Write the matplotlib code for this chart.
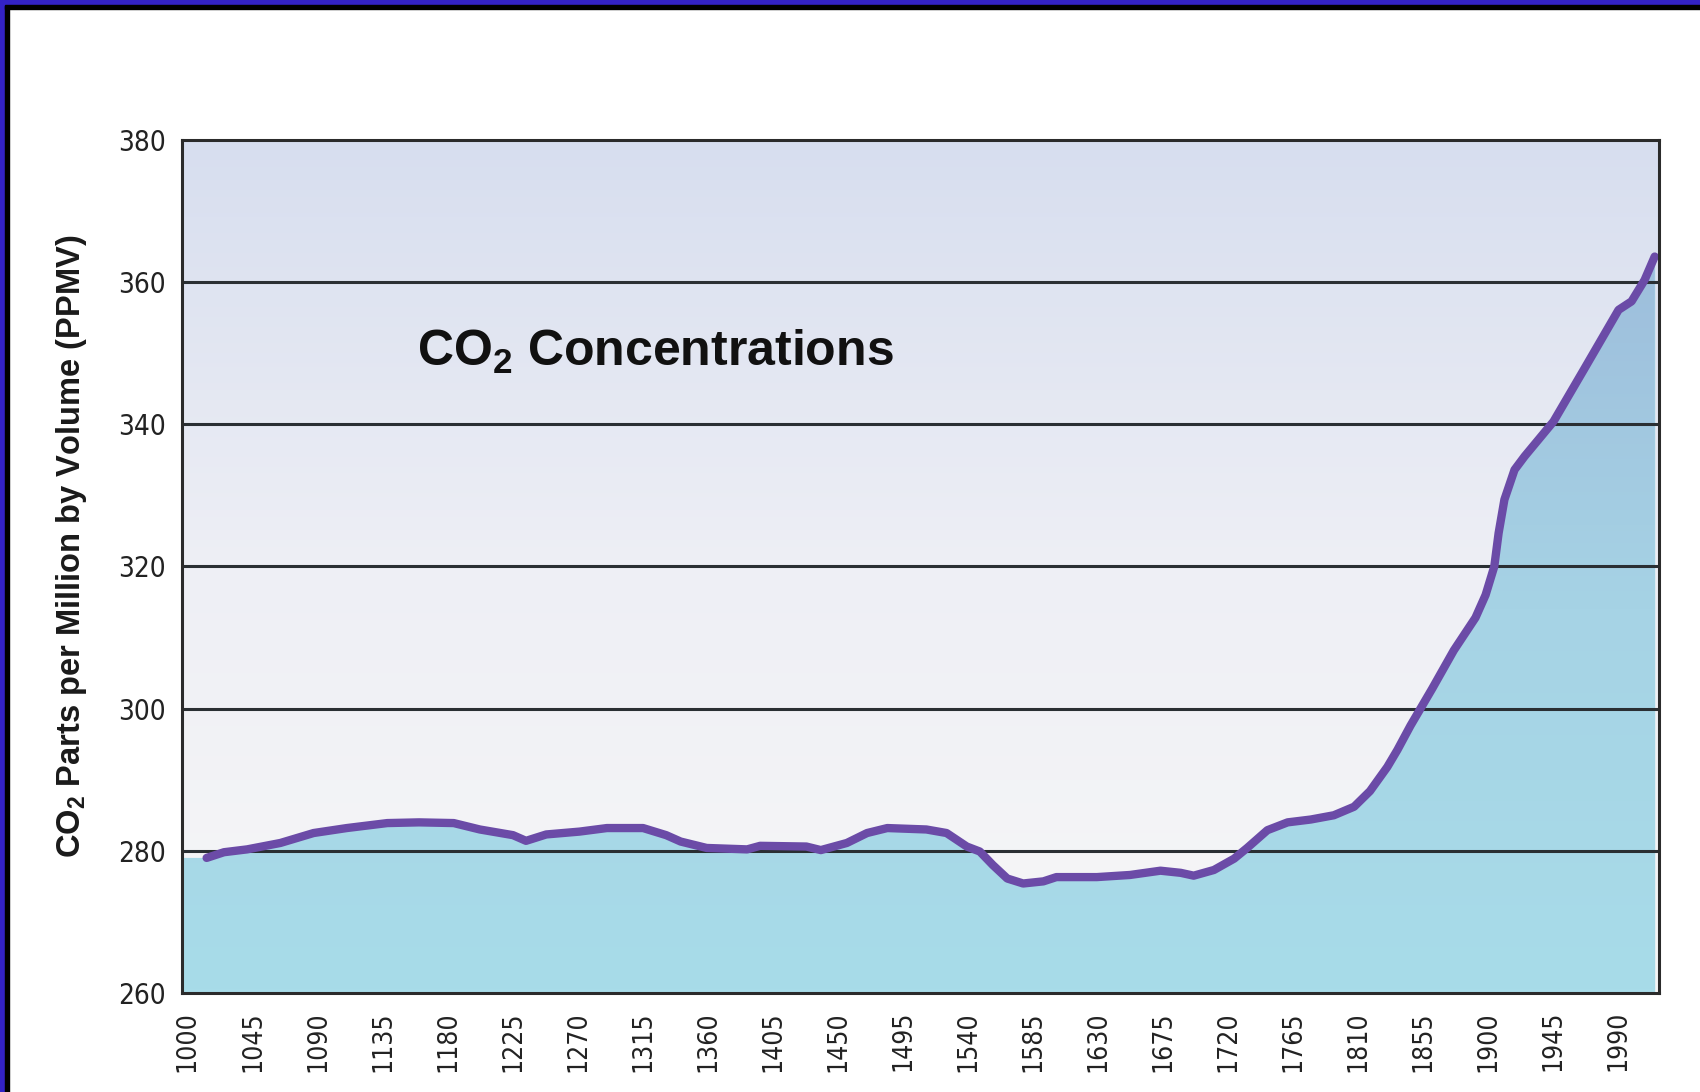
import numpy as np
import matplotlib.pyplot as plt
from matplotlib import font_manager
from matplotlib.patches import Rectangle
from matplotlib.colors import LinearSegmentedColormap

# ------------------------------------------------------------
# Data
# ------------------------------------------------------------
years = [1013, 1025, 1041, 1064, 1087, 1110, 1138, 1160, 1184, 1202,
         1225, 1234, 1248, 1271, 1290, 1315, 1331, 1341, 1359, 1387,
         1396, 1428, 1438, 1456, 1470, 1484, 1511, 1525, 1539, 1548,
         1557, 1567, 1578, 1592, 1601, 1629, 1652, 1673, 1687, 1696,
         1710, 1724, 1733, 1747, 1761, 1777, 1793, 1807, 1818, 1830,
         1837, 1846, 1861, 1876, 1891, 1898, 1904, 1907, 1911, 1918,
         1925, 1945, 1966, 1978, 1990, 1999, 2008, 2015]
ppmv = [279.0, 279.8, 280.2, 281.1, 282.5, 283.2, 283.9, 284.0, 283.9, 283.0,
        282.2, 281.4, 282.3, 282.7, 283.2, 283.2, 282.2, 281.3, 280.4, 280.2,
        280.7, 280.6, 280.1, 281.1, 282.5, 283.2, 283.0, 282.5, 280.6, 279.9,
        278.0, 276.1, 275.4, 275.7, 276.3, 276.3, 276.6, 277.2, 276.9, 276.5,
        277.3, 278.9, 280.4, 282.9, 284.0, 284.4, 285.0, 286.2, 288.4, 291.8,
        294.2, 297.6, 302.8, 308.2, 312.8, 316.0, 320.0, 324.7, 329.4, 333.6,
        335.5, 340.4, 347.7, 351.9, 356.1, 357.3, 360.3, 363.6]

x_ticks = list(range(1000, 2000, 45))
y_ticks = [260, 280, 300, 320, 340, 360, 380]

# pick a narrow font for the tick labels if one is installed
installed = {(f.name, f.stretch) for f in font_manager.fontManager.ttflist}
names = {n for n, _ in installed}
if "Liberation Sans Narrow" in names:
    xtick_kw = dict(family="Liberation Sans Narrow", fontsize=23)
    ytick_kw = dict(family="Liberation Sans Narrow", fontsize=23)
elif ("DejaVu Sans", "condensed") in installed or ("DejaVu Sans", 75) in installed:
    xtick_kw = dict(family="DejaVu Sans", fontstretch="condensed", fontsize=19)
    ytick_kw = dict(family="DejaVu Sans", fontstretch="condensed", fontsize=20)
else:
    xtick_kw = dict(family="Liberation Sans", fontsize=19.5)
    ytick_kw = dict(family="Liberation Sans", fontsize=20)

plt.rcParams["mathtext.fontset"] = "custom"
plt.rcParams["mathtext.rm"] = "Liberation Sans"
plt.rcParams["mathtext.bf"] = "Liberation Sans:bold"

# ------------------------------------------------------------
# Figure
# ------------------------------------------------------------
fig = plt.figure(figsize=(17, 10.92), dpi=100)
ax = fig.add_axes([0.1071, 0.0907, 0.8688, 0.7811])
x0, x1 = 996, 2018
ax.set_xlim(x0, x1)
ax.set_ylim(260, 380)

# background gradient above the curve
bg_cmap = LinearSegmentedColormap.from_list("bg", ["#f7f7f7", "#eeeff5", "#d7deef"])
grad = np.linspace(0, 1, 256).reshape(-1, 1)
ax.imshow(grad, cmap=bg_cmap, aspect="auto", origin="lower",
          extent=(x0, x1, 260, 380), zorder=0)

# area under the curve (runs to the left axis), with its own gradient
fill_x = [x0] + years
fill_y = [ppmv[0]] + ppmv
area = ax.fill_between(fill_x, fill_y, 260, color="#a8d9e7", lw=0, zorder=1)
fill_cmap = LinearSegmentedColormap.from_list("fill", ["#a8dce9", "#a6d3e5", "#9dbcdb"])
im = ax.imshow(grad, cmap=fill_cmap, aspect="auto", origin="lower",
               extent=(x0, x1, 260, 368), zorder=1.5)
im.set_clip_path(area.get_paths()[0], transform=ax.transData)

# horizontal grid lines
for yv in y_ticks[1:-1]:
    ax.axhline(yv, color="#2a2f33", lw=2.2, zorder=2)

ax.plot(years, ppmv, color="#6b4ba7", lw=6, solid_capstyle="round",
        solid_joinstyle="round", zorder=3)

for s in ax.spines.values():
    s.set_color("#2b2b2b")
    s.set_linewidth(2.2)
    s.set_zorder(4)

ax.set_xticks(x_ticks)
ax.set_xticklabels([str(v) for v in x_ticks], rotation=90, color="#222222", **xtick_kw)
ax.set_yticks(y_ticks)
ax.set_yticklabels([str(v) for v in y_ticks], color="#222222", **ytick_kw)
ax.tick_params(axis="x", length=0, pad=13)
ax.tick_params(axis="y", length=0, pad=12)

ax.text(0.159, 0.735, r"CO$_\mathbf{2}$ Concentrations", transform=ax.transAxes,
        fontsize=36, fontweight="bold", family="Liberation Sans",
        va="baseline", ha="left", color="#111111", zorder=5)

fig.text(0.042, 0.50, r"CO$_\mathbf{2}$ Parts per Million by Volume (PPMV)",
         rotation=90, ha="center", va="center", fontsize=23.5,
         fontweight="bold", family="Liberation Sans", color="#1a1a1a")

# frame on the left and top edges
W, H = 1700, 1092
fig.patches.append(Rectangle((0, 0), 5 / W, 1, transform=fig.transFigure,
                             color="#3322c6", zorder=10))
fig.patches.append(Rectangle((5 / W, 0), 4 / W, 1 - 5 / H, transform=fig.transFigure,
                             color="#000000", zorder=10))
fig.patches.append(Rectangle((0, 1 - 5 / H), 1, 5 / H, transform=fig.transFigure,
                             color="#3322c6", zorder=10))
fig.patches.append(Rectangle((5 / W, 1 - 9 / H), 1, 4 / H, transform=fig.transFigure,
                             color="#000000", zorder=10))

fig.savefig("out.png", dpi=100)
